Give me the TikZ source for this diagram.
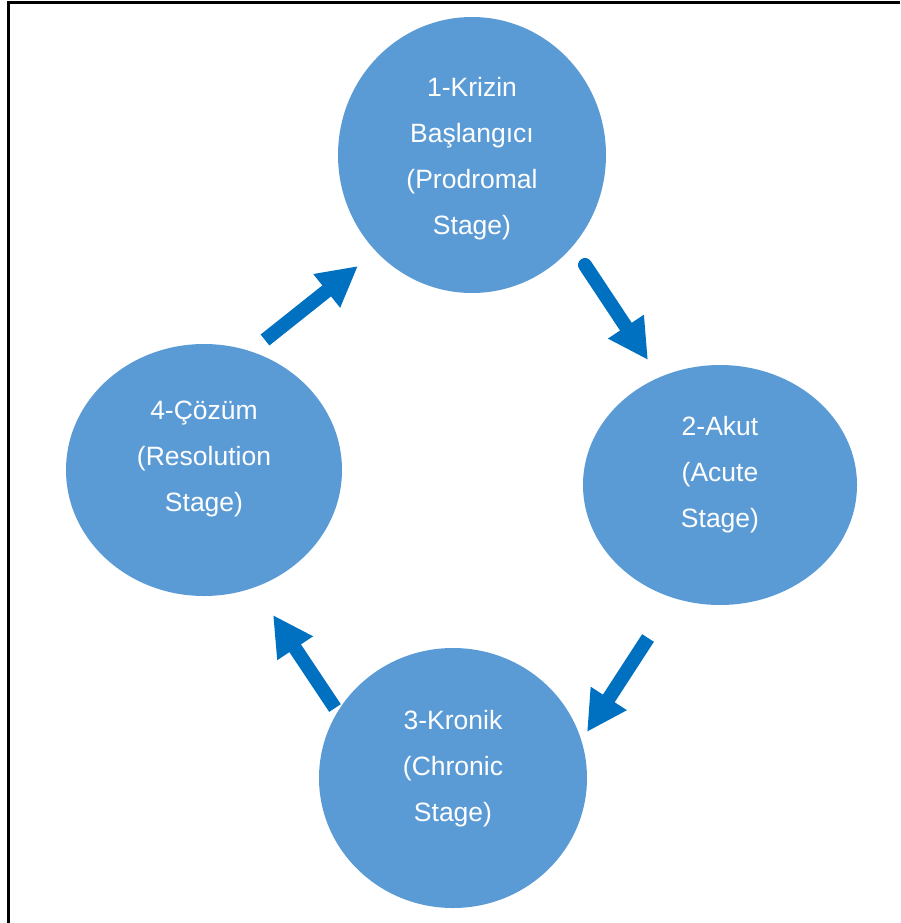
\documentclass[tikz,border=0pt]{standalone}
\usepackage{fontspec}
\setmainfont{Liberation Sans}
\usetikzlibrary{arrows.meta,shapes.geometric}
\definecolor{stagefill}{HTML}{5B9BD5}
\definecolor{flowblue}{HTML}{0070C0}
\begin{document}
\begin{tikzpicture}[x=1pt,y=-1pt,
  stage/.style={ellipse, fill=stagefill, draw=none, inner sep=0pt},
  stagetext/.style={text=white, align=center, font=\fontsize{26.5}{46}\selectfont},
  flow/.style={draw=flowblue, line width=14pt, -{Triangle[length=40pt,width=40pt]}}]
  \useasboundingbox (0,0) rectangle (900,923);
  % frame (only the top and left edges fall inside the page)
  \draw[line width=3pt] (8,923) -- (8,3) -- (900,3);

  % the four stages
  \node[stage, minimum width=268pt, minimum height=276pt] (s1) at (472,155) {};
  \node[stage, minimum width=274pt, minimum height=240pt] (s2) at (720,485) {};
  \node[stage, minimum width=268pt, minimum height=260pt] (s3) at (453,778) {};
  \node[stage, minimum width=276pt, minimum height=252pt] (s4) at (204,470) {};

  \node[stagetext] (t1) at (472,159) {1-Krizin\\Başlangıcı\\(Prodromal\\Stage)};
  \node[stagetext] (t2) at (720,475) {2-Akut\\(Acute\\Stage)};
  \node[stagetext] (t3) at (453,769) {3-Kronik\\(Chronic\\Stage)};
  \node[stagetext] (t4) at (204,459) {4-Çözüm\\(Resolution\\Stage)};

  % arrow end points between neighbouring stages
  \coordinate (a12) at (585,265);
  \coordinate (b12) at (648,360);
  \coordinate (a23) at (648,638);
  \coordinate (b23) at (587,732);
  \coordinate (a34) at (335,708);
  \coordinate (b34) at (273,615);
  \coordinate (a41) at (265,340);
  \coordinate (b41) at (358,266);

  \draw[flow, line cap=round] (a12) -- (b12);
  \draw[flow] (a23) -- (b23);
  \draw[flow] (a34) -- (b34);
  \draw[flow] (a41) -- (b41);
\end{tikzpicture}
\end{document}
